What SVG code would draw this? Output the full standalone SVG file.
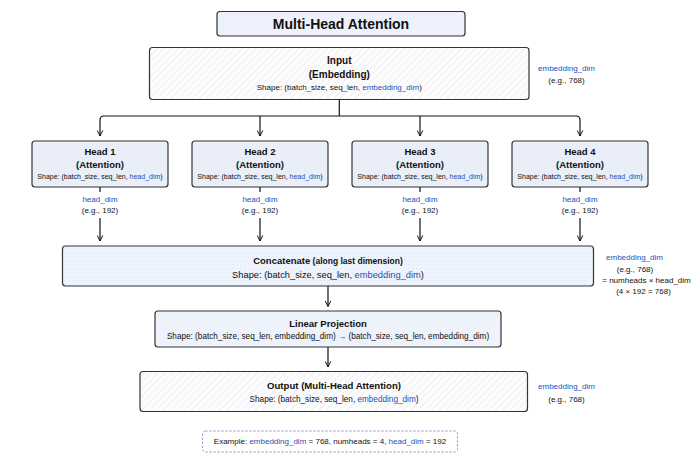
<svg xmlns="http://www.w3.org/2000/svg" width="700" height="467" viewBox="0 0 700 467">
<style>
text{font-family:"Liberation Sans",Arial,sans-serif;fill:#111;text-anchor:middle}
.b{font-weight:bold}
.bl{fill:#2a4db5}
.box{stroke:#333;stroke-width:1.2}
.conn path{fill:none;stroke:#111;stroke-width:1.2}
</style>
<defs>
<pattern id="hatch" patternUnits="userSpaceOnUse" width="5" height="5" patternTransform="rotate(45)">
<rect width="5" height="5" fill="#fcfcfd"/>
<line x1="0" y1="0" x2="0" y2="5" stroke="#e4e7ec" stroke-width="1.2"/>
</pattern>
<pattern id="dots" patternUnits="userSpaceOnUse" width="4" height="4">
<rect width="4" height="4" fill="#f0f4fc"/>
<rect x="0" y="0" width="1.5" height="1" fill="#e0e7f4"/>
<rect x="2" y="2" width="1" height="1" fill="#e4eaf6"/>
</pattern>
<marker id="arr" viewBox="0 0 10 10" refX="9" refY="5" markerWidth="7" markerHeight="7" orient="auto" markerUnits="userSpaceOnUse">
<path d="M1,1 L9,5 L1,9" fill="none" stroke="#111" stroke-width="1.4"/>
</marker>
</defs>
<rect width="700" height="467" fill="#ffffff"/>

<g id="title">
<rect class="box" x="217" y="11.5" width="248" height="24.5" rx="3" fill="#edf1fb"/>
<text class="b" x="341" y="29.3" font-size="14">Multi-Head Attention</text>
</g>

<g id="input">
<rect class="box" x="149.5" y="47.5" width="379.5" height="52" rx="3" fill="url(#hatch)"/>
<text class="b" x="339.3" y="64.3" font-size="10">Input</text>
<text class="b" x="339.3" y="77.5" font-size="10">(Embedding)</text>
<text x="339.3" y="89.5" font-size="8">Shape: (batch_size, seq_len, <tspan class="bl">embedding_dim</tspan>)</text>
</g>
<g id="input-label">
<text class="bl" x="566.5" y="70.5" font-size="8">embedding_dim</text>
<text x="566.5" y="83" font-size="8">(e.g., 768)</text>
</g>

<g id="head1">
<rect class="box" x="32" y="141" width="136" height="46" rx="3" fill="#e9eef9"/>
<text class="b" x="100" y="155" font-size="9.5">Head 1</text>
<text class="b" x="100" y="168.3" font-size="9.5">(Attention)</text>
<text x="100" y="178.5" font-size="7">Shape: (batch_size, seq_len, <tspan class="bl">head_dim</tspan>)</text>
<text class="bl" x="100" y="201.7" font-size="8">head_dim</text>
<text x="100" y="213" font-size="8">(e.g., 192)</text>
</g>
<g id="head2">
<rect class="box" x="192" y="141" width="136" height="46" rx="3" fill="#e9eef9"/>
<text class="b" x="260" y="155" font-size="9.5">Head 2</text>
<text class="b" x="260" y="168.3" font-size="9.5">(Attention)</text>
<text x="260" y="178.5" font-size="7">Shape: (batch_size, seq_len, <tspan class="bl">head_dim</tspan>)</text>
<text class="bl" x="260" y="201.7" font-size="8">head_dim</text>
<text x="260" y="213" font-size="8">(e.g., 192)</text>
</g>
<g id="head3">
<rect class="box" x="352" y="141" width="136" height="46" rx="3" fill="#e9eef9"/>
<text class="b" x="420" y="155" font-size="9.5">Head 3</text>
<text class="b" x="420" y="168.3" font-size="9.5">(Attention)</text>
<text x="420" y="178.5" font-size="7">Shape: (batch_size, seq_len, <tspan class="bl">head_dim</tspan>)</text>
<text class="bl" x="420" y="201.7" font-size="8">head_dim</text>
<text x="420" y="213" font-size="8">(e.g., 192)</text>
</g>
<g id="head4">
<rect class="box" x="512" y="141" width="136" height="46" rx="3" fill="#e9eef9"/>
<text class="b" x="580" y="155" font-size="9.5">Head 4</text>
<text class="b" x="580" y="168.3" font-size="9.5">(Attention)</text>
<text x="580" y="178.5" font-size="7">Shape: (batch_size, seq_len, <tspan class="bl">head_dim</tspan>)</text>
<text class="bl" x="580" y="201.7" font-size="8">head_dim</text>
<text x="580" y="213" font-size="8">(e.g., 192)</text>
</g>

<g id="concat">
<rect class="box" x="62.5" y="246" width="531" height="40" rx="3" fill="url(#dots)"/>
<text class="b" x="328" y="264.3" font-size="9.5">Concatenate<tspan font-size="8.5"> (along last dimension)</tspan></text>
<text x="328" y="278.3" font-size="9.3">Shape: (batch_size, seq_len, <tspan class="bl">embedding_dim</tspan>)</text>
</g>
<g id="concat-label">
<text class="bl" x="634.5" y="260" font-size="8">embedding_dim</text>
<text x="635" y="271.5" font-size="8">(e.g., 768)</text>
<text x="646.5" y="282.5" font-size="8">= numheads × head_dim</text>
<text x="643.5" y="293.5" font-size="8">(4 × 192 = 768)</text>
</g>

<g id="linear">
<rect class="box" x="155" y="311" width="346" height="36" rx="3" fill="#edf2fb"/>
<text class="b" x="328" y="327.3" font-size="9.5">Linear Projection</text>
<text x="328" y="339" font-size="8.2">Shape: (batch_size, seq_len, embedding_dim)  →  (batch_size, seq_len, embedding_dim)</text>
</g>

<g id="output">
<rect class="box" x="140" y="371.5" width="387.5" height="40" rx="3" fill="url(#hatch)"/>
<text class="b" x="334" y="389" font-size="9.6">Output (Multi-Head Attention)</text>
<text x="334" y="401.7" font-size="8.2">Shape: (batch_size, seq_len, <tspan class="bl">embedding_dim</tspan>)</text>
</g>
<g id="output-label">
<text class="bl" x="566.5" y="389.3" font-size="8">embedding_dim</text>
<text x="566.5" y="401.7" font-size="8">(e.g., 768)</text>
</g>

<g id="example">
<rect x="202.5" y="431" width="255" height="21" rx="3" fill="#ffffff" stroke="#8a90c8" stroke-width="1" stroke-dasharray="2 2"/>
<text x="330" y="443.5" font-size="8">Example: <tspan class="bl">embedding_dim</tspan> = 768, numheads = 4, <tspan class="bl">head_dim</tspan> = 192</text>
</g>

<g id="connectors" class="conn">
<path d="M339.3,99.5 V116"/>
<path d="M339.3,116 H104 Q100,116 100,120 V136" marker-end="url(#arr)"/>
<path d="M339.3,116 H576 Q580,116 580,120 V136" marker-end="url(#arr)"/>
<path d="M260,116 V136" marker-end="url(#arr)"/>
<path d="M420,116 V136" marker-end="url(#arr)"/>
<path d="M100,187 V192"/>
<path d="M260,187 V192"/>
<path d="M420,187 V192"/>
<path d="M580,187 V192"/>
<path d="M100,218 V241" marker-end="url(#arr)"/>
<path d="M260,218 V241" marker-end="url(#arr)"/>
<path d="M420,218 V241" marker-end="url(#arr)"/>
<path d="M580,218 V241" marker-end="url(#arr)"/>
<path d="M328,286 V306.5" marker-end="url(#arr)"/>
<path d="M328,347 V367" marker-end="url(#arr)"/>
</g>
</svg>
